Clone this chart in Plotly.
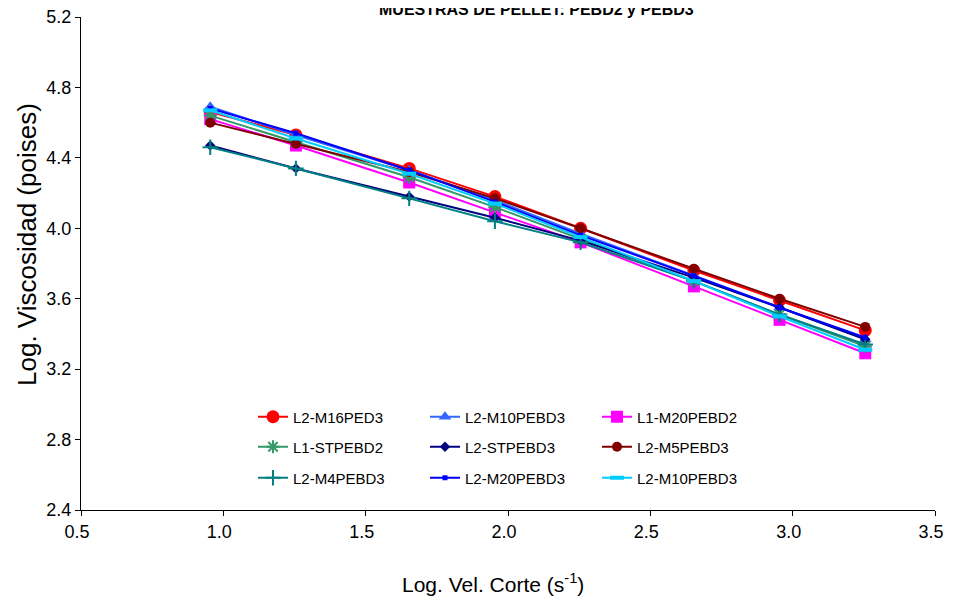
import plotly.graph_objects as go

x_vals = [0.954, 1.255, 1.653, 1.954, 2.255, 2.653, 2.954, 3.255]

names = ["L2-M16PED3", "L2-M10PEBD3", "L1-M20PEBD2",
         "L1-STPEBD2", "L2-STPEBD3", "L2-M5PEBD3",
         "L2-M4PEBD3", "L2-M20PEBD3", "L2-M10PEBD3"]

y_m16 = [4.66, 4.53, 4.34, 4.18, 4.00, 3.76, 3.59, 3.42]
y_m10 = [4.69, 4.53, 4.33, 4.16, 3.97, 3.73, 3.55, 3.37]
y_m20_2 = [4.62, 4.47, 4.26, 4.09, 3.92, 3.67, 3.48, 3.29]
y_st2 = [4.64, 4.49, 4.29, 4.12, 3.94, 3.70, 3.51, 3.33]
y_st3 = [4.47, 4.34, 4.18, 4.06, 3.93, 3.72, 3.55, 3.37]
y_m5 = [4.60, 4.48, 4.32, 4.17, 4.00, 3.77, 3.60, 3.44]
y_m4 = [4.46, 4.34, 4.17, 4.04, 3.92, 3.70, 3.51, 3.34]
y_m20_3 = [4.68, 4.54, 4.33, 4.15, 3.96, 3.73, 3.55, 3.38]
y_m10b = [4.67, 4.51, 4.31, 4.14, 3.95, 3.70, 3.50, 3.31]

series = [y_m16, y_m10, y_m20_2, y_st2, y_st3, y_m5, y_m4, y_m20_3, y_m10b]

colors = ["#FF0000", "#3366FF", "#FF00FF", "#339966", "#000080",
          "#800000", "#008080", "#0000FF", "#00CCFF"]
symbols = ["circle", "triangle-up", "square", "asterisk-open", "diamond",
           "circle", "cross-thin-open", "square", "line-ew-open"]
sizes = [13, 11, 12, 11, 8, 10, 11, 5, 10]
legend_ids = ["legend", "legend", "legend",
              "legend2", "legend2", "legend2",
              "legend3", "legend3", "legend3"]

FONT = "Arial, Liberation Sans, sans-serif"

# page body has an 8px margin; figure sized so the page fits the window exactly.
W, H = 953 - 16, 607 - 16
OFF = 8
# target plot area in window pixels
PL, PR, PT, PB = 81, 935, 17, 510
PW, PH = PR - PL, PB - PT


def px(xp):
    return (xp - PL) / PW


def py(yp):
    return (PB - yp) / PH


fig = go.Figure()
for i, (nm, ys) in enumerate(zip(names, series)):
    sym = symbols[i]
    marker = dict(symbol=sym, size=sizes[i], color=colors[i])
    if sym in ("asterisk-open", "cross-thin-open", "line-ew-open"):
        marker["line"] = dict(color=colors[i], width=2 if sym != "line-ew-open" else 4)
    else:
        marker["line"] = dict(width=0)
    fig.add_trace(go.Scatter(
        x=x_vals, y=ys, name=nm, mode="lines+markers",
        line=dict(color=colors[i], width=2),
        marker=marker, legend=legend_ids[i],
    ))

leg_common = dict(orientation="h", xanchor="left", yanchor="middle",
                  x=px(253), bgcolor="rgba(0,0,0,0)",
                  font=dict(family=FONT, size=15, color="#000000"),
                  entrywidth=127, entrywidthmode="pixels",
                  tracegroupgap=0, itemwidth=30)

fig.update_layout(
    width=W, height=H,
    margin=dict(l=PL - OFF, r=(OFF + W) - PR, t=PT - OFF, b=(OFF + H) - PB,
                autoexpand=False),
    paper_bgcolor="white", plot_bgcolor="white",
    font=dict(family=FONT, color="#000000"),
    legend=dict(y=py(417), **leg_common),
    legend2=dict(y=py(447), **leg_common),
    legend3=dict(y=py(478), **leg_common),
    showlegend=True,
    annotations=[
        dict(text="<b>MUESTRAS DE PELLET: PEBD2 y PEBD3</b>", xref="paper", yref="paper",
             x=px(536), y=py(OFF + 2), xanchor="center", yanchor="middle",
             showarrow=False, font=dict(family=FONT, size=16, color="#000000")),
        dict(text="Log. Vel. Corte (s<sup>-1</sup>)", xref="paper", yref="paper",
             x=px(493), y=py(583), xanchor="center",
             yanchor="middle", showarrow=False,
             font=dict(family=FONT, size=21, color="#000000")),
        dict(text="Log. Viscosidad (poises)", xref="paper", yref="paper",
             x=px(27), y=py(245), xanchor="center",
             yanchor="middle", showarrow=False, textangle=-90,
             font=dict(family=FONT, size=26, color="#000000")),
    ],
)

fig.update_xaxes(range=[0.5, 3.5], tick0=0.5, dtick=0.5, tickformat=".1f",
                 showgrid=False, zeroline=False, showline=True, automargin=False,
                 linecolor="#000000", linewidth=1, ticks="outside",
                 ticklen=5, tickcolor="#000000", ticklabeloverflow="allow",
                 ticklabelshift=-4,
                 tickfont=dict(family=FONT, size=18))
fig.update_yaxes(range=[2.4, 5.2], tick0=2.4, dtick=0.4, tickformat=".1f",
                 showgrid=False, zeroline=False, showline=True, automargin=False,
                 linecolor="#000000", linewidth=1, ticks="outside",
                 ticklen=5, tickcolor="#000000", ticklabeloverflow="allow",
                 tickfont=dict(family=FONT, size=18))

fig.write_html("out.html")
